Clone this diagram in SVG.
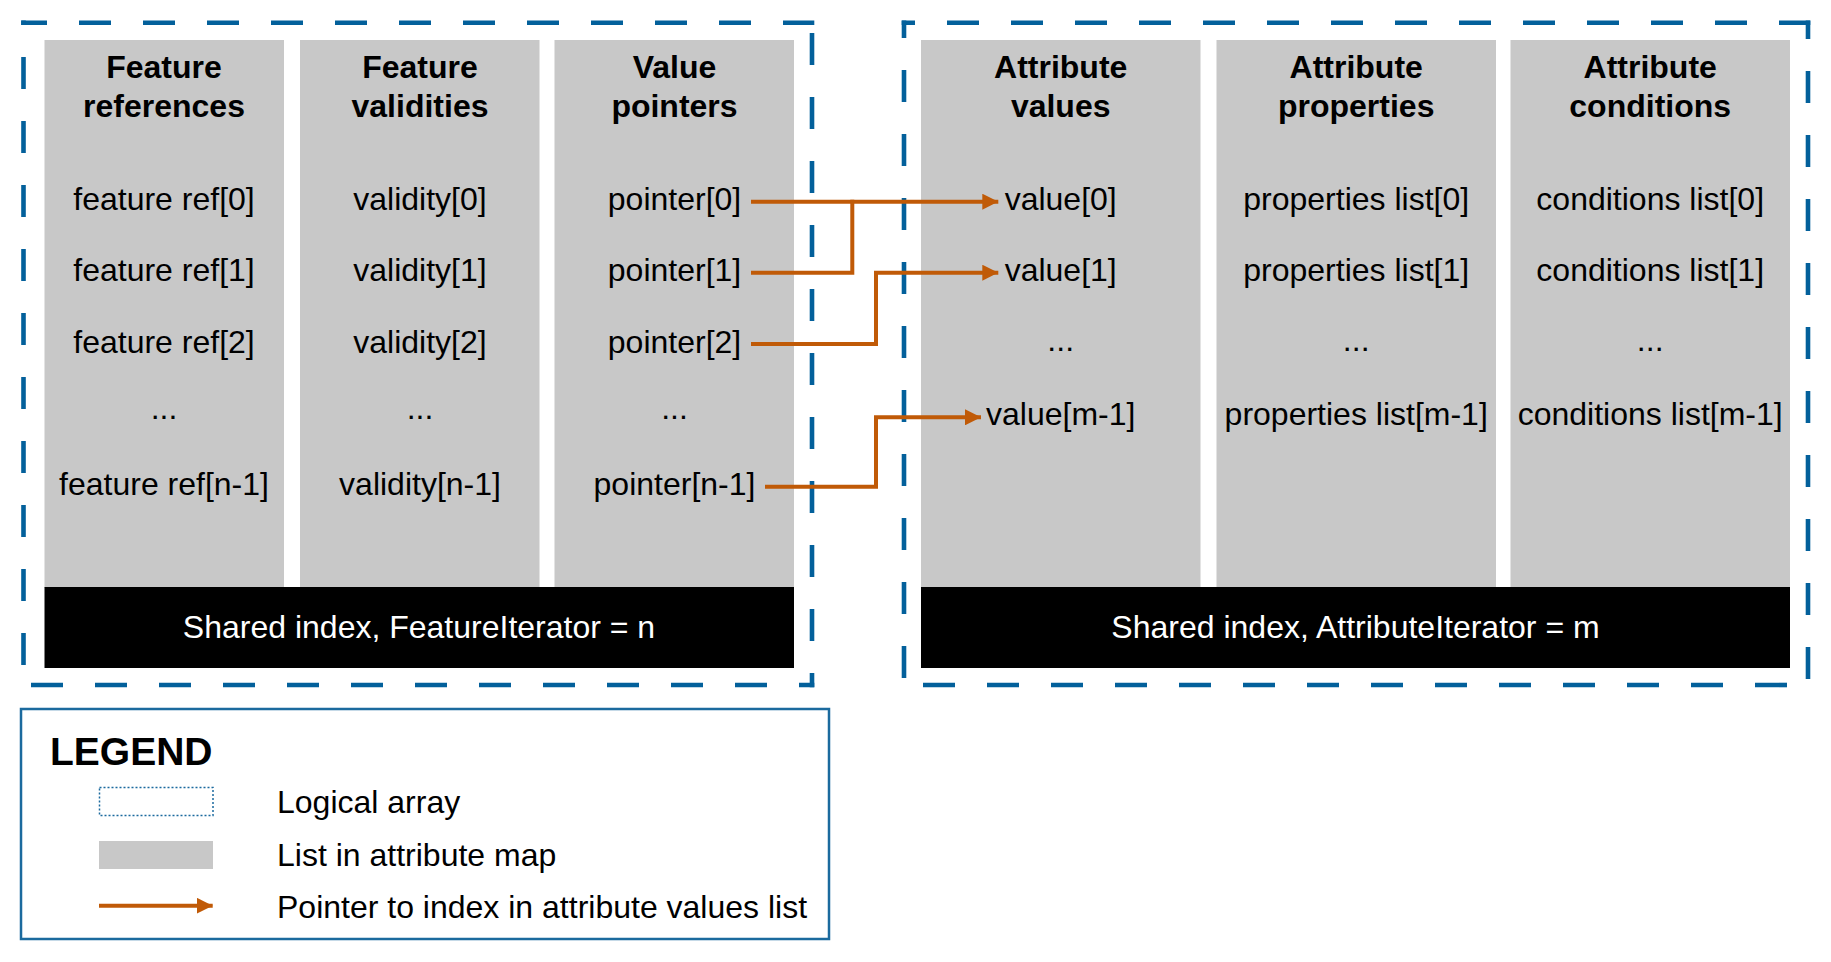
<svg xmlns="http://www.w3.org/2000/svg" width="1831" height="962" viewBox="0 0 1831 962">
<style>
  text { font-family: "Liberation Sans", Arial, sans-serif; font-size: 32px; fill: #000; text-anchor: middle; }
  .hd { font-weight: bold; }
  .bar { fill: #fff; }
  .col { fill: #C8C8C8; }
  .blk { fill: #000; }
  .logical { fill: none; stroke: #03609B; stroke-width: 4.6; stroke-dasharray: 32 32; }
  .ptr { fill: none; stroke: #C05A07; stroke-width: 4; }
  .lg { text-anchor: start; }
</style>
<defs>
  <marker id="ah" markerUnits="userSpaceOnUse" markerWidth="16" markerHeight="16" refX="16" refY="8" orient="auto">
    <path d="M0,0 L16,8 L0,16 z" fill="#C05A07"/>
  </marker>
</defs>
<rect width="1831" height="962" fill="#fff"/>

<g id="feature-array">
  <g id="feature-array-border">
    <line class="logical" x1="21.2" y1="22.7" x2="814.3" y2="22.7" stroke-dashoffset="6.2"/>
    <line class="logical" x1="812" y1="20.4" x2="812" y2="687.3" stroke-dashoffset="51.4"/>
    <line class="logical" x1="21.2" y1="685" x2="814.3" y2="685" stroke-dashoffset="54.2"/>
    <line class="logical" x1="23.5" y1="20.4" x2="23.5" y2="687.3" stroke-dashoffset="27.4"/>
  </g>
  <g id="feature-references">
    <rect class="col" x="44.5" y="40" width="239.5" height="548"/>
    <text class="hd" x="164" y="78">Feature</text>
    <text class="hd" x="164" y="116.5">references</text>
    <text x="164" y="209.5">feature ref[0]</text>
    <text x="164" y="281">feature ref[1]</text>
    <text x="164" y="352.5">feature ref[2]</text>
    <text x="164" y="418.5">...</text>
    <text x="164" y="494.5">feature ref[n-1]</text>
  </g>
  <g id="feature-validities">
    <rect class="col" x="300" y="40" width="239.5" height="548"/>
    <text class="hd" x="420" y="78">Feature</text>
    <text class="hd" x="420" y="116.5">validities</text>
    <text x="420" y="209.5">validity[0]</text>
    <text x="420" y="281">validity[1]</text>
    <text x="420" y="352.5">validity[2]</text>
    <text x="420" y="418.5">...</text>
    <text x="420" y="494.5">validity[n-1]</text>
  </g>
  <g id="value-pointers">
    <rect class="col" x="554.5" y="40" width="239.5" height="548"/>
    <text class="hd" x="674.5" y="78">Value</text>
    <text class="hd" x="674.5" y="116.5">pointers</text>
    <text x="674.5" y="209.5">pointer[0]</text>
    <text x="674.5" y="281">pointer[1]</text>
    <text x="674.5" y="352.5">pointer[2]</text>
    <text x="674.5" y="418.5">...</text>
    <text x="674.5" y="494.5">pointer[n-1]</text>
  </g>
  <g id="feature-index">
    <rect class="blk" x="44.5" y="587" width="749.5" height="81"/>
    <text class="bar" x="419" y="637.5">Shared index, FeatureIterator = n</text>
  </g>
</g>

<g id="attribute-array">
  <g id="attribute-array-border">
    <line class="logical" x1="901.7" y1="22.7" x2="1810.3" y2="22.7" stroke-dashoffset="18.7"/>
    <line class="logical" x1="1808" y1="20.4" x2="1808" y2="687.3" stroke-dashoffset="13.4"/>
    <line class="logical" x1="901.7" y1="685" x2="1810.3" y2="685" stroke-dashoffset="42.7"/>
    <line class="logical" x1="904" y1="20.4" x2="904" y2="687.3" stroke-dashoffset="14.4"/>
  </g>
  <g id="attribute-values">
    <rect class="col" x="921" y="40" width="279.5" height="548"/>
    <text class="hd" x="1060.7" y="78">Attribute</text>
    <text class="hd" x="1060.7" y="116.5">values</text>
    <text x="1060.7" y="209.5">value[0]</text>
    <text x="1060.7" y="281">value[1]</text>
    <text x="1060.7" y="350.5">...</text>
    <text x="1060.7" y="424.5">value[m-1]</text>
  </g>
  <g id="attribute-properties">
    <rect class="col" x="1216.5" y="40" width="279.5" height="548"/>
    <text class="hd" x="1356.2" y="78">Attribute</text>
    <text class="hd" x="1356.2" y="116.5">properties</text>
    <text x="1356.2" y="209.5">properties list[0]</text>
    <text x="1356.2" y="281">properties list[1]</text>
    <text x="1356.2" y="350.5">...</text>
    <text x="1356.2" y="424.5">properties list[m-1]</text>
  </g>
  <g id="attribute-conditions">
    <rect class="col" x="1510.5" y="40" width="279.5" height="548"/>
    <text class="hd" x="1650.2" y="78">Attribute</text>
    <text class="hd" x="1650.2" y="116.5">conditions</text>
    <text x="1650.2" y="209.5">conditions list[0]</text>
    <text x="1650.2" y="281">conditions list[1]</text>
    <text x="1650.2" y="350.5">...</text>
    <text x="1650.2" y="424.5">conditions list[m-1]</text>
  </g>
  <g id="attribute-index">
    <rect class="blk" x="921" y="587" width="869" height="81"/>
    <text class="bar" x="1355.5" y="637.5">Shared index, AttributeIterator = m</text>
  </g>
</g>

<g id="connectors">
  <path class="ptr" d="M751,201.7 H998.3" marker-end="url(#ah)"/>
  <path class="ptr" d="M751,272.7 H852.3 V199.7"/>
  <path class="ptr" d="M751,344 H876 V272.7 H998.3" marker-end="url(#ah)"/>
  <path class="ptr" d="M765,486.7 H876 V417.3 H981" marker-end="url(#ah)"/>
</g>

<g id="legend">
  <rect x="21" y="709" width="808" height="230" fill="none" stroke="#1B6A9E" stroke-width="2.5"/>
  <text class="hd lg" x="50" y="765" style="font-size:39px">LEGEND</text>
  <rect x="99.5" y="787.5" width="113.5" height="28" fill="none" stroke="#1B6A9E" stroke-width="1.5" stroke-dasharray="2 2"/>
  <text class="lg" x="277" y="813">Logical array</text>
  <rect class="col" x="99" y="841" width="114" height="28"/>
  <text class="lg" x="277" y="866">List in attribute map</text>
  <path class="ptr" d="M99,905.7 H212.7" stroke-width="5" marker-end="url(#ah)"/>
  <text class="lg" x="277" y="918">Pointer to index in attribute values list</text>
</g>
</svg>
